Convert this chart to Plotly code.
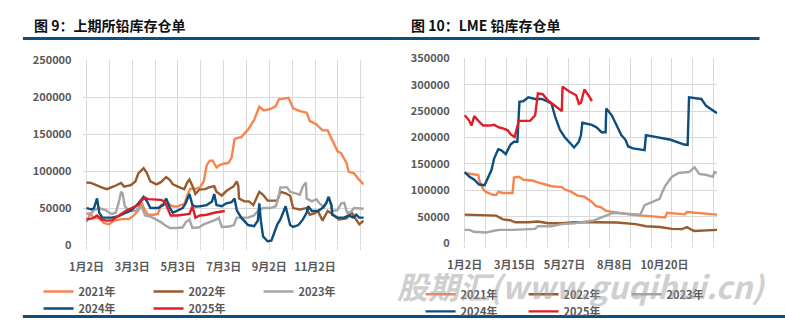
import plotly.graph_objects as go

# ---------------- SHFE lead warrants (days counted from Jan 2) ----------------
shfe_2021_day = [0, 5, 9, 17, 23, 30, 37, 47, 56, 63, 69, 73, 77, 82, 89, 95, 99, 104, 108, 115,
                 121, 125, 130, 134, 138, 145, 151, 156, 160, 164, 168, 173, 177, 183, 189, 193, 197, 201, 206, 215,
                 223, 230, 236, 245, 252, 256, 263, 269, 275, 284, 293, 297, 306, 314, 321, 327, 334, 339, 346, 349,
                 356, 363, 369]
shfe_2021_val = [42000, 43000, 37000, 36000, 30000, 28000, 33000, 35000, 35000, 40000,
                 47000, 58000, 48000, 41000, 41000, 42000, 54000, 55000, 56000, 52000,
                 52000, 54000, 55000, 67000, 76000, 76000, 78000, 86000, 108000, 114000,
                 114000, 105000, 108000, 110000, 111000, 118000, 143000, 145000, 146000, 156000,
                 169000, 187000, 182000, 184000, 188000, 197000, 198000, 199000, 185000, 181000,
                 179000, 168000, 163000, 155000, 155000, 143000, 127000, 124000, 111000, 99000,
                 97000, 88000, 82000]

shfe_2022_day = [0, 6, 20, 27, 37, 43, 46, 50, 59, 65, 69, 76, 80, 85, 93, 99, 106, 111, 115, 124,
                 130, 134, 137, 141, 145, 150, 158, 163, 170, 173, 180, 186, 196, 200, 202, 203, 210, 216, 222, 226,
                 230, 235, 241, 248, 254, 258, 265, 271, 275, 284, 293, 297, 304, 308, 314, 321, 327, 336, 346, 353,
                 360, 363, 369]
shfe_2022_val = [84600, 84000, 78000, 75600, 79500, 82000, 84000, 79000, 81000, 86000,
                 97000, 104000, 98000, 86000, 82000, 85000, 92000, 88000, 82000, 78000,
                 75600, 84600, 88500, 80000, 69000, 75000, 75600, 78000, 79500, 72000,
                 66700, 73000, 79500, 86000, 80000, 63000, 59000, 59000, 54000, 63000,
                 72000, 68000, 60000, 60000, 60000, 72000, 70000, 66700, 50000, 48000,
                 50000, 41000, 43000, 46000, 33000, 46000, 42000, 34600, 36000, 43600,
                 33000, 28000, 33000]

shfe_2023_day = [0, 4, 10, 17, 26, 30, 34, 39, 43, 46, 48, 51, 56, 65, 73, 78, 86, 93, 99, 104,
                 111, 121, 128, 132, 137, 141, 150, 156, 164, 173, 176, 180, 190, 196, 200, 215, 223, 228, 235, 245,
                 252, 256, 258, 267, 271, 284, 288, 292, 293, 300, 306, 310, 316, 319, 323, 327, 334, 339, 343, 347,
                 352, 356, 363, 369]
shfe_2023_val = [31000, 40000, 47000, 50000, 47000, 43600, 42000, 44000, 58000, 72000,
                 70000, 52500, 47000, 46000, 52500, 40000, 38000, 34600, 31000, 27000,
                 23000, 23000, 24000, 30800, 34600, 23000, 24000, 28000, 30800, 34600,
                 37000, 24400, 25000, 27000, 37000, 37000, 40000, 46000, 50000, 50000,
                 52500, 66700, 78000, 78000, 72000, 68000, 79500, 84600, 63000, 59000,
                 62000, 56400, 51000, 58000, 65000, 46000, 47000, 56400, 57000, 43600,
                 45000, 50000, 50000, 49000]

shfe_2024_day = [0, 7, 10, 14, 17, 21, 34, 43, 52, 60, 69, 76, 80, 85, 95, 102, 106, 111, 115, 121,
                 128, 132, 137, 141, 145, 151, 160, 167, 170, 173, 180, 186, 193, 197, 200, 206, 215, 223, 228, 230,
                 232, 235, 241, 246, 249, 254, 258, 262, 265, 267, 271, 275, 282, 288, 293, 295, 300, 308, 314, 319,
                 322, 326, 327, 334, 343, 349, 355, 359, 363, 369]
shfe_2024_val = [50000, 48000, 50000, 63000, 43600, 37000, 37000, 39000, 43600, 47000,
                 56400, 65000, 60000, 50000, 50000, 54000, 63000, 50000, 43600, 47000,
                 50000, 56400, 69000, 54000, 52000, 52500, 54000, 59000, 69000, 54000,
                 52500, 56400, 58000, 63000, 47000, 37000, 27000, 25600, 33000, 56400,
                 33000, 11500, 5100, 6000, 15400, 28000, 34600, 43600, 52500, 43600,
                 27000, 24400, 27000, 34600, 43600, 52500, 46000, 46000, 50000, 56400,
                 65000, 54000, 41000, 37000, 37000, 40000, 37000, 41000, 37000, 37000]

shfe_2025_day = [0, 8, 14, 20, 26, 34, 43, 52, 60, 69, 73, 78, 82, 91, 99, 104, 108, 112, 121, 130,
                 137, 141, 145, 151, 160, 170, 176, 184]
shfe_2025_val = [34600, 36000, 40000, 34600, 33000, 33500, 40000, 46000, 50000, 54000,
                 60000, 64000, 62000, 62000, 61000, 59000, 50000, 40000, 40000, 41000,
                 42000, 52500, 37000, 40000, 41000, 43600, 45000, 46000]

# ---------------- LME lead stocks (days counted from Jan 2) ----------------
lme_2021_day = [0, 10, 20, 21, 27, 31, 41, 46, 49, 56, 70, 72, 79, 86, 99, 107, 117, 127, 142, 146,
                156, 165, 175, 185, 192, 199, 207, 222, 242, 260, 279, 293, 296, 318, 322, 325, 347, 369]
lme_2021_val = [132800, 131000, 129000, 120000, 102000, 97000, 91500, 91000, 97000, 95000,
                95000, 124000, 125600, 120000, 118500, 115000, 111000, 107700, 106000, 102000,
                97000, 90000, 88000, 79000, 70000, 68000, 61000, 57400, 54000, 52000,
                50000, 48500, 57400, 56000, 54500, 59000, 57000, 54000]

lme_2022_day = [0, 21, 46, 56, 67, 74, 93, 107, 122, 142, 160, 189, 222, 250, 265, 285, 303, 318, 325, 332,
                336, 369]
lme_2022_val = [54000, 53000, 52000, 45000, 43000, 39500, 39500, 41000, 37700, 37700,
                39500, 39500, 39000, 36000, 32000, 30500, 27000, 26500, 30500, 25000,
                23000, 25000]

lme_2023_day = [0, 7, 13, 31, 41, 50, 70, 93, 103, 107, 127, 142, 160, 179, 189, 203, 217, 232, 250, 257,
                263, 275, 285, 289, 293, 303, 313, 328, 336, 343, 354, 363, 365, 369]
lme_2023_val = [25000, 25000, 21500, 20000, 23000, 25000, 25000, 27000, 27000, 32000,
                32000, 36000, 37700, 41000, 43000, 50000, 57400, 56000, 54000, 54000,
                72000, 79000, 84000, 97000, 108000, 125600, 133000, 134600, 143600, 131000,
                129000, 125600, 134600, 133000]

lme_2024_day = [0, 7, 14, 21, 29, 34, 39, 43, 49, 53, 60, 67, 72, 77, 80, 86, 93, 103, 113, 120,
                127, 132, 139, 146, 156, 160, 167, 170, 172, 186, 193, 200, 206, 207, 215, 220, 225, 229, 235, 239,
                246, 256, 263, 265, 282, 301, 321, 326, 328, 335, 346, 353, 363, 369]
lme_2024_val = [134600, 125600, 120000, 111000, 109500, 125600, 138000, 160000, 177700, 176000,
                168700, 186700, 192000, 192000, 267500, 269000, 276000, 273000, 273000, 269000,
                264000, 240500, 215000, 201000, 186700, 181000, 192000, 204600, 228000, 224000,
                219000, 210000, 210000, 255000, 242000, 228000, 213600, 204600, 195700, 183000,
                179500, 177700, 176000, 204600, 201000, 195700, 186700, 186000, 276000, 275000,
                273000, 260000, 251000, 246000]

lme_2025_day = [0, 6, 10, 14, 20, 27, 36, 43, 50, 57, 63, 67, 73, 79, 89, 96, 103, 107, 114, 122,
                132, 142, 143, 153, 163, 167, 170, 175, 182, 186]
lme_2025_val = [242000, 233000, 222600, 240500, 231500, 222600, 222600, 224000, 219000, 217000,
                213600, 206400, 201000, 231500, 231500, 232000, 242000, 283600, 282000, 270000,
                260000, 250000, 296000, 287000, 280000, 264000, 266000, 291000, 278000, 269000]

# ---------------- axis labels ----------------
shfe_tick_text = ["1月2日", "3月3日", "5月3日", "7月3日", "9月2日", "11月2日"]
lme_tick_text = ["1月2日", "3月15日", "5月27日", "8月8日", "10月20日"]
shfe_y_ticks = [0, 50000, 100000, 150000, 200000, 250000]
lme_y_ticks = [0, 50000, 100000, 150000, 200000, 250000, 300000, 350000]

years = ["2021年", "2022年", "2023年", "2024年", "2025年"]
colors = ["#F8844E", "#9A5A2C", "#A5A5A5", "#0C4F7F", "#E01E27"]

shfe_series = [(shfe_2021_day, shfe_2021_val), (shfe_2022_day, shfe_2022_val),
               (shfe_2023_day, shfe_2023_val), (shfe_2024_day, shfe_2024_val),
               (shfe_2025_day, shfe_2025_val)]
lme_series = [(lme_2021_day, lme_2021_val), (lme_2022_day, lme_2022_val),
              (lme_2023_day, lme_2023_val), (lme_2024_day, lme_2024_val),
              (lme_2025_day, lme_2025_val)]

FONT = "Noto Sans CJK SC"
TICK_COLOR = "#595959"
GRID = "#D9D9D9"
RULE = "#0E4F7F"

fig = go.Figure()

# older years first so later years sit on top
for i in range(5):
    d, v = shfe_series[i]
    fig.add_trace(go.Scatter(
        x=d, y=v, mode="lines", name=years[i],
        line=dict(color=colors[i], width=2.4),
        xaxis="x", yaxis="y",
        legend="legend" if i < 3 else "legend2",
        hoverinfo="skip",
    ))
for i in range(5):
    d, v = lme_series[i]
    fig.add_trace(go.Scatter(
        x=d, y=v, mode="lines", name=years[i],
        line=dict(color=colors[i], width=2.4),
        xaxis="x2", yaxis="y2",
        legend="legend3" if i < 3 else "legend4",
        hoverinfo="skip",
    ))

tick_font = dict(family=FONT, size=11, color=TICK_COLOR, weight="bold")

shfe_month = 365 / 12
shfe_grid = [k * shfe_month for k in range(13)]
shfe_label_pos = [k * 2 * shfe_month for k in range(6)]

lme_month = 30.3
lme_grid = [k * lme_month for k in range(13)]
lme_label_pos = [k * 73 for k in range(5)]


def x_axis(domain, rng, pos, text, grid, anchor):
    return dict(
        domain=domain, range=rng, anchor=anchor,
        tickmode="array", tickvals=pos, ticktext=text,
        showgrid=False, zeroline=False, showline=False, ticks="",
        tickfont=tick_font, ticklabelstandoff=14,
        minor=dict(tickvals=grid, showgrid=True, gridcolor=GRID, gridwidth=1,
                   ticks="outside", ticklen=4, tickcolor=GRID, tickwidth=1),
    )


def y_axis(domain, rng, ticks, anchor, standoff):
    return dict(
        domain=domain, range=rng, anchor=anchor,
        tickmode="array", tickvals=ticks, ticktext=[str(t) for t in ticks],
        showgrid=True, gridcolor=GRID, gridwidth=1,
        zeroline=False, showline=False, ticks="",
        tickfont=tick_font, ticklabelstandoff=standoff,
    )


W, H = 785, 326


def px_x(p):
    return p / W


def px_y(p):
    return 1 - p / H


legend_font = dict(family=FONT, size=11, color=TICK_COLOR, weight="bold")


def legend_box(x, y, width):
    return dict(
        orientation="h", x=x, y=y, xanchor="left", yanchor="middle",
        entrywidth=width, entrywidthmode="pixels", itemwidth=30,
        font=legend_font, bgcolor="rgba(0,0,0,0)", borderwidth=0,
        traceorder="normal", itemclick=False, itemdoubleclick=False,
    )


fig.update_layout(
    width=W, height=H,
    margin=dict(l=0, r=0, t=0, b=0),
    paper_bgcolor="white", plot_bgcolor="white",
    showlegend=True,
    xaxis=x_axis([px_x(68), px_x(355)], [-5.2, 369], shfe_label_pos, shfe_tick_text, shfe_grid, "y"),
    yaxis=y_axis([px_y(249), px_y(54)], [0, 250000], shfe_y_ticks, "x", 10),
    xaxis2=x_axis([px_x(457), px_x(716)], [-1.5, 369.5], lme_label_pos, lme_tick_text, lme_grid, "y2"),
    yaxis2=y_axis([px_y(247), px_y(52)], [0, 350000], lme_y_ticks, "x2", 13),
    legend=legend_box(px_x(23), px_y(298), 65),
    legend2=legend_box(px_x(23), px_y(316), 65),
    legend3=legend_box(px_x(413), px_y(301), 58),
    legend4=legend_box(px_x(413), px_y(319), 58),
)

# panel titles
fig.add_annotation(text="图 9：上期所铅库存仓单", x=px_x(16), y=px_y(17), xref="paper", yref="paper",
                   xanchor="left", yanchor="middle", showarrow=False,
                   font=dict(family=FONT, size=14, color="#111111", weight="bold"))
fig.add_annotation(text="图 10：LME 铅库存仓单", x=px_x(401), y=px_y(17), xref="paper", yref="paper",
                   xanchor="left", yanchor="middle", showarrow=False,
                   font=dict(family=FONT, size=14, color="#111111", weight="bold"))

# header and footer rules
fig.add_shape(type="line", xref="paper", yref="paper", x0=px_x(7), x1=px_x(390), y0=px_y(31), y1=px_y(31),
              line=dict(color=RULE, width=3))
fig.add_shape(type="line", xref="paper", yref="paper", x0=px_x(390), x1=px_x(759), y0=px_y(31), y1=px_y(31),
              line=dict(color=RULE, width=3))
fig.add_shape(type="line", xref="paper", yref="paper", x0=px_x(7), x1=1, y0=px_y(324.5), y1=px_y(324.5),
              line=dict(color=RULE, width=3))

# source watermark
fig.add_annotation(text="股期汇(www.guqihui.cn)", x=px_x(577), y=px_y(292), xref="paper", yref="paper",
                   xanchor="center", yanchor="middle", showarrow=False, opacity=0.5,
                   font=dict(family=FONT, size=31, color="#A0A0A0", weight="bold", style="italic"))

fig.write_html("out.html")
